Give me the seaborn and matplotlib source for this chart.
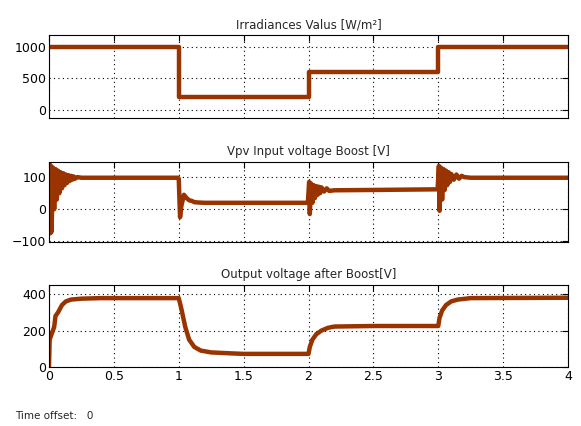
import numpy as np
import pandas as pd
import matplotlib
matplotlib.use("Agg")
import matplotlib.pyplot as plt
import seaborn as sns

# ── Dados ────────────────────────────────────────────────────────
irr_t = [0, 1, 2, 3, 4]
irr_v = [1000, 200, 600, 1000, 1000]

vpv_t = [0, 0.005, 0.01, 0.015, 0.02, 0.03, 0.04, 0.05, 0.06, 0.07,
         0.08, 0.09, 0.1, 0.11, 0.12, 0.13, 0.14, 0.15, 0.16, 0.17,
         0.18, 0.19, 0.2, 0.22, 0.25,
         0.995, 1.0, 1.01, 1.02, 1.04, 1.06, 1.08, 1.1, 1.12, 1.15, 1.2,
         1.995, 2.005, 2.01, 2.02, 2.03, 2.04, 2.05, 2.06, 2.07, 2.08,
         2.09, 2.1, 2.12, 2.14, 2.16, 2.2, 2.5,
         2.995, 3.005, 3.01, 3.02, 3.03, 3.04, 3.05, 3.06, 3.07, 3.08,
         3.09, 3.1, 3.12, 3.14, 3.16, 3.18, 3.2, 3.25, 4.0]
vpv_v = [0, 140, -75, 135, -70, 130, 0, 125, 30, 120,
         50, 115, 65, 112, 75, 108, 82, 106, 88, 104,
         92, 102, 95, 100, 98,
         98, 95, -25, 10, 45, 35, 28, 26, 22, 21, 20,
         20, 85, -15, 80, 20, 75, 35, 72, 45, 70,
         50, 68, 55, 65, 57, 59, 60,
         62, 135, -5, 130, 30, 125, 60, 120, 75, 115,
         85, 110, 92, 108, 95, 104, 100, 98, 98]

out_t = [0, 0.005, 0.02, 0.04, 0.05, 0.07, 0.1, 0.13, 0.17, 0.25, 0.4,
         1.0, 1.02, 1.05, 1.08, 1.12, 1.17, 1.25, 1.4, 1.5,
         2.0, 2.01, 2.03, 2.06, 2.1, 2.15, 2.2, 2.5,
         3.0, 3.01, 3.03, 3.06, 3.1, 3.15, 3.25, 4.0]
out_v = [0, 150, 180, 220, 280, 300, 340, 360, 370, 375, 378,
         378, 320, 220, 150, 110, 90, 80, 75, 72,
         72, 110, 150, 180, 200, 215, 222, 225,
         225, 270, 310, 340, 360, 370, 378, 380]

titles = ["Irradiances Valus [W/m²]", "Vpv Input voltage Boost [V]",
          "Output voltage after Boost[V]"]
x_ticks = [0, 0.5, 1, 1.5, 2, 2.5, 3, 3.5, 4]
x_labels = ["0", "0.5", "1", "1.5", "2", "2.5", "3", "3.5", "4"]

COR = "#993300"

sns.set_style("white")
plt.rcParams["font.family"] = ["Liberation Sans Narrow", "DejaVu Sans"]

fig = plt.figure(figsize=(5.81, 4.26), dpi=100)
W, H = 581, 426
boxes = [(35, 118), (162, 242), (285, 367)]
axes = []
for top, bot in boxes:
    ax = fig.add_axes([49 / W, 1 - bot / H, 519 / W, (bot - top) / H])
    axes.append(ax)

series = [(irr_t, irr_v, "steps-post"), (vpv_t, vpv_v, "default"),
          (out_t, out_v, "default")]
ylims = [(-130, 1190), (-102, 147), (0, 450)]
yticks = [[0, 500, 1000], [-100, 0, 100], [0, 200, 400]]

for ax, (t, v, ds), title, yl, yt in zip(axes, series, titles, ylims, yticks):
    df = pd.DataFrame({"t": t, "v": v})
    sns.lineplot(data=df, x="t", y="v", ax=ax, color=COR, linewidth=3.2,
                 estimator=None, sort=False, drawstyle=ds)
    ax.set_xlim(0, 4)
    ax.set_ylim(*yl)
    ax.set_yticks(yt)
    ax.set_xticks(x_ticks)
    ax.set_xlabel("")
    ax.set_ylabel("")
    ax.set_title(title, fontsize=8.5, pad=5)
    ax.grid(True, color="black", linestyle=(0, (1, 3)), linewidth=0.8)
    ax.tick_params(direction="in", length=4, top=True, right=True,
                   labelsize=9, pad=2, colors="black")
    for s in ax.spines.values():
        s.set_visible(True)
        s.set_color("black")
        s.set_linewidth(0.8)

for ax in axes[:2]:
    ax.set_xticklabels([])
axes[2].set_xticklabels(x_labels)

fig.text(15 / W, 1 - 416 / H, "Time offset:   0", fontsize=7.5, va="center")

fig.savefig("out.png", dpi=100)
